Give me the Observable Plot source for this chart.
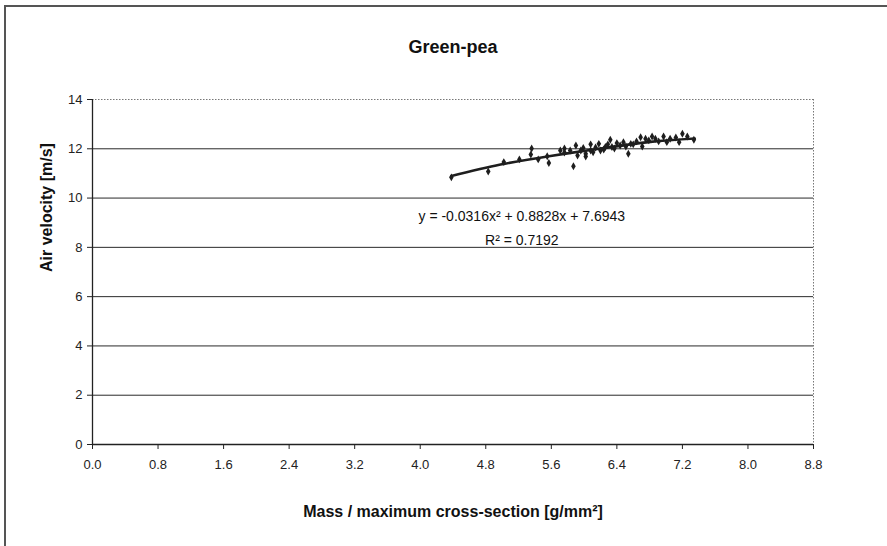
<!DOCTYPE html>
<html>
<head>
<meta charset="utf-8">
<script src="https://cdn.jsdelivr.net/npm/d3@7"></script>
<script src="https://cdn.jsdelivr.net/npm/@observablehq/plot@0.6"></script>
<style>
  html, body { margin: 0; padding: 0; background: #fff; overflow: hidden; }
  #wrap { position: relative; width: 887px; height: 546px; }
  #border { position: absolute; left: 4px; top: 5px; width: 1000px; height: 1000px;
            border-left: 2px solid #555; border-top: 2px solid #555; pointer-events: none; }
  svg { display: block; }
</style>
</head>
<body>
<div id="wrap"><div id="border"></div></div>
<script>
// Measured data (mass / max cross-section [g/mm²], air velocity [m/s])
const massValues = [4.38, 4.83, 5.02, 5.21, 5.36, 5.35, 5.44, 5.55, 5.57, 5.76, 5.76, 5.87, 5.90, 5.92, 5.99,
  6.02, 6.02, 6.08, 6.11, 6.18, 6.20, 6.26, 6.32, 6.34, 6.40, 6.44, 6.48, 6.54, 6.57, 6.60, 6.69, 6.71,
  6.75, 6.79, 6.83, 6.87, 6.97, 7.01, 7.05, 7.16, 7.20, 7.26, 7.34,
  6.14, 6.24, 6.29, 6.08, 6.37, 5.71, 5.83, 5.96, 6.51, 6.64, 6.91, 7.12];
const velocityValues = [10.84, 11.08, 11.46, 11.57, 12.01, 11.77, 11.57, 11.70, 11.42, 12.01, 11.85, 11.29, 12.13, 11.73, 12.03,
  11.69, 11.80, 12.18, 11.86, 12.20, 11.93, 12.07, 12.37, 12.07, 12.23, 12.13, 12.27, 11.80, 12.20, 12.18, 12.47, 12.09,
  12.41, 12.34, 12.50, 12.41, 12.50, 12.27, 12.41, 12.27, 12.61, 12.50, 12.37,
  12.05, 11.97, 12.18, 11.93, 12.01, 11.93, 11.93, 11.93, 12.09, 12.30, 12.30, 12.46];

// Trend line
const trendMass = [4.38, 4.98, 5.59, 6.20, 6.81, 7.35];
const trendVelocity = [10.90, 11.36, 11.71, 12.01, 12.28, 12.42];

const xTicks = [0, 0.8, 1.6, 2.4, 3.2, 4.0, 4.8, 5.6, 6.4, 7.2, 8.0, 8.8];
const yTicks = [0, 2, 4, 6, 8, 10, 12, 14];
const yGrid = [2, 4, 6, 8, 10, 12];

const titleText = "Green-pea";
const xLabel = "Mass / maximum cross-section [g/mm²]";
const yLabel = "Air velocity [m/s]";
const equationLines = ["y = -0.0316x² + 0.8828x + 7.6943", "R² = 0.7192"];
const equationAnchorX = 5.24;
const equationAnchorY = [9.25, 8.28];

const points = massValues.map((m, i) => ({x: m, y: velocityValues[i]}));
const trend = trendMass.map((m, i) => ({x: m, y: trendVelocity[i]}));
const eq = equationLines.map((t, i) => ({t, x: equationAnchorX, y: equationAnchorY[i]}));

const chart = Plot.plot({
  width: 887,
  height: 546,
  marginLeft: 92,
  marginRight: 74,
  marginTop: 99,
  marginBottom: 102,
  style: {fontFamily: "'Liberation Sans', Arial, sans-serif", fontSize: "13px", color: "#222", background: "transparent"},
  x: {domain: [0, 8.8]},
  y: {domain: [0, 14]},
  marks: [
    Plot.ruleY(yGrid, {stroke: "#2a2a2a", strokeWidth: 1}),
    Plot.ruleY([14], {stroke: "#777", strokeDasharray: "1.5,1.5"}),
    Plot.ruleX([8.8], {stroke: "#777", strokeDasharray: "1.5,1.5"}),
    Plot.ruleY([0], {stroke: "#222", strokeWidth: 1.3}),
    Plot.ruleX([0], {stroke: "#222", strokeWidth: 1.3}),
    Plot.axisX({ticks: xTicks, tickFormat: d => d.toFixed(1), tickSize: 5, tickPadding: 10, label: null, fontSize: 13}),
    Plot.axisY({ticks: yTicks, tickSize: 5, tickPadding: 5, label: null, fontSize: 13}),
    Plot.line(trend, {x: "x", y: "y", curve: "natural", stroke: "#1e1e1e", strokeWidth: 2.6}),
    Plot.dot(points, {x: "x", y: "y", symbol: "diamond", r: 2.4, fill: "#1e1e1e", stroke: "none"}),
    Plot.text(eq, {x: "x", y: "y", text: "t", fontSize: 14, fill: "#111"}),
    Plot.text([titleText], {frameAnchor: "top", dy: -59, fontSize: 18, fontWeight: "bold", fill: "#111"}),
    Plot.text([xLabel], {frameAnchor: "bottom", dy: 72, fontSize: 16, fontWeight: "bold", fill: "#111"}),
    Plot.text([yLabel], {frameAnchor: "left", dx: -46, rotate: -90, fontSize: 16, fontWeight: "bold", fill: "#111"})
  ]
});
document.getElementById("wrap").appendChild(chart);
</script>
</body>
</html>
